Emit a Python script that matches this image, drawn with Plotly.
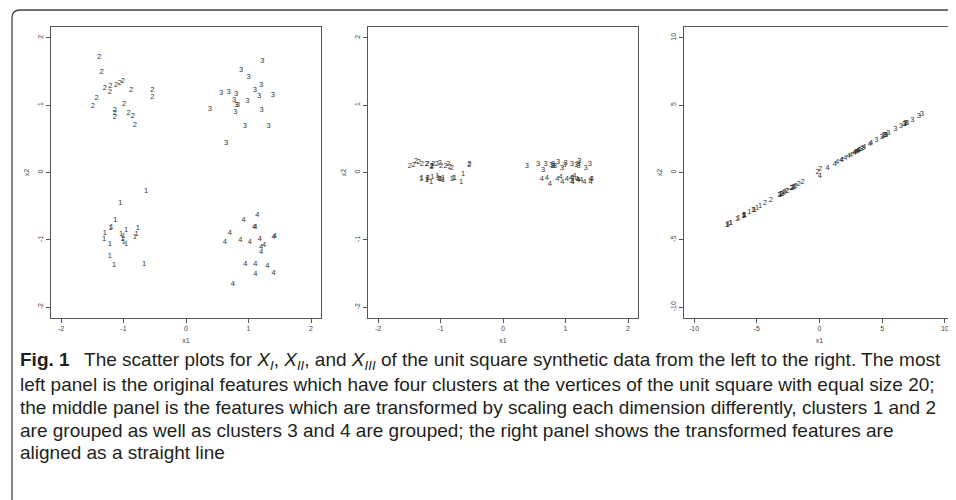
import plotly.graph_objects as go

# ---------------- Panel 1 (X_I): original features ----------------
p1_c1_x = [-0.64, -1.05, -1.13, -1.21, -1.19, -0.77, -1.30, -1.31, -1.22, -1.04,
           -0.96, -1.02, -1.00, -0.96, -0.79, -0.82, -1.22, -1.15, -0.67, -1.00]
p1_c1_y = [-0.27, -0.45, -0.71, -0.82, -0.81, -0.82, -0.90, -0.99, -1.07, -0.91,
           -0.86, -0.99, -1.03, -1.07, -0.91, -0.96, -1.24, -1.38, -1.36, -0.95]
p1_c2_x = [-1.39, -1.35, -1.30, -1.21, -1.22, -1.12, -1.06, -1.01, -0.88, -1.43,
           -1.49, -0.99, -1.14, -1.14, -1.14, -0.92, -0.85, -0.82, -0.54, -0.54]
p1_c2_y = [1.71, 1.49, 1.26, 1.28, 1.19, 1.30, 1.33, 1.36, 1.23, 1.10,
           0.99, 1.01, 0.93, 0.88, 0.82, 0.88, 0.83, 0.71, 1.22, 1.12]
p1_c3_x = [1.22, 0.88, 1.00, 1.20, 1.10, 1.17, 1.39, 0.56, 0.68, 0.80,
           0.77, 0.80, 0.83, 0.98, 0.79, 1.21, 0.38, 0.94, 1.32, 0.64]
p1_c3_y = [1.65, 1.52, 1.41, 1.29, 1.23, 1.14, 1.15, 1.18, 1.20, 1.16,
           1.08, 1.00, 1.00, 1.06, 0.89, 0.93, 0.94, 0.69, 0.69, 0.43]
p1_c4_x = [1.14, 0.92, 1.09, 1.11, 0.70, 0.62, 0.87, 1.02, 1.18, 1.40,
           1.42, 1.25, 1.20, 1.20, 0.95, 1.11, 1.30, 1.40, 1.11, 0.75]
p1_c4_y = [-0.63, -0.71, -0.81, -0.81, -0.90, -1.03, -1.00, -1.03, -0.99, -0.96,
           -0.95, -1.08, -1.11, -1.18, -1.36, -1.36, -1.39, -1.49, -1.51, -1.65]

# ---------------- Panel 2 (X_II): scaled features ----------------
p2_c1_x = [-0.64, -1.05, -1.13, -1.21, -1.19, -0.77, -1.30, -1.31, -1.22, -1.04,
           -0.96, -1.02, -1.00, -0.96, -0.79, -0.82, -1.22, -1.15, -0.67, -1.00]
p2_c1_y = [-0.03, -0.05, -0.07, -0.08, -0.08, -0.08, -0.09, -0.10, -0.11, -0.09,
           -0.09, -0.10, -0.10, -0.11, -0.09, -0.10, -0.12, -0.14, -0.14, -0.10]
p2_c2_x = [-1.39, -1.35, -1.30, -1.21, -1.22, -1.12, -1.06, -1.01, -0.88, -1.43,
           -1.49, -0.99, -1.14, -1.14, -1.14, -0.92, -0.85, -0.82, -0.54, -0.54]
p2_c2_y = [0.17, 0.15, 0.13, 0.13, 0.12, 0.13, 0.13, 0.14, 0.12, 0.11,
           0.10, 0.10, 0.09, 0.09, 0.08, 0.09, 0.08, 0.07, 0.12, 0.11]
p2_c3_x = [1.22, 0.88, 1.00, 1.20, 1.10, 1.17, 1.39, 0.56, 0.68, 0.80,
           0.77, 0.80, 0.83, 0.98, 0.79, 1.21, 0.38, 0.94, 1.32, 0.64]
p2_c3_y = [0.17, 0.15, 0.14, 0.13, 0.12, 0.11, 0.12, 0.12, 0.12, 0.12,
           0.11, 0.10, 0.10, 0.11, 0.09, 0.09, 0.09, 0.07, 0.07, 0.04]
p2_c4_x = [1.14, 0.92, 1.09, 1.11, 0.70, 0.62, 0.87, 1.02, 1.18, 1.40,
           1.42, 1.25, 1.20, 1.20, 0.95, 1.11, 1.30, 1.40, 1.11, 0.75]
p2_c4_y = [-0.06, -0.07, -0.08, -0.08, -0.09, -0.10, -0.10, -0.10, -0.10, -0.10,
           -0.10, -0.11, -0.11, -0.12, -0.14, -0.14, -0.14, -0.15, -0.15, -0.17]

# ---------------- Panel 3 (X_III): aligned features ----------------
p3_c1_x = [-3.16, -5.20, -6.02, -6.56, -6.45, -4.73, -7.08, -7.29, -7.06, -6.02,
           -5.59, -6.08, -6.08, -5.99, -4.98, -5.20, -7.38, -7.35, -5.32, -5.93]
p3_c1_y = [-1.67, -2.76, -3.19, -3.48, -3.42, -2.51, -3.75, -3.86, -3.74, -3.19,
           -2.96, -3.22, -3.22, -3.17, -2.64, -2.76, -3.91, -3.90, -2.82, -3.14]
p3_c2_x = [-2.57, -2.82, -3.04, -2.63, -2.84, -2.22, -1.91, -1.65, -1.35, -3.88,
           -4.33, -2.22, -2.99, -3.09, -3.20, -2.17, -1.98, -2.08, 0.04, -0.15]
p3_c2_y = [-1.36, -1.49, -1.61, -1.39, -1.51, -1.18, -1.01, -0.87, -0.72, -2.06,
           -2.29, -1.18, -1.58, -1.64, -1.70, -1.15, -1.05, -1.10, 0.25, 0.05]
p3_c3_x = [8.15, 6.49, 6.79, 7.39, 6.87, 6.99, 7.92, 4.53, 5.07, 5.49,
           5.22, 5.19, 5.31, 6.05, 4.94, 6.76, 3.34, 5.19, 6.77, 3.46]
p3_c3_y = [4.32, 3.44, 3.60, 3.92, 3.64, 3.70, 4.20, 2.40, 2.69, 2.91,
           2.77, 2.75, 2.81, 3.21, 2.62, 3.58, 1.77, 2.75, 3.59, 1.83]
p3_c4_x = [3.55, 2.49, 3.01, 3.09, 1.22, 0.65, 1.74, 2.31, 3.05, 4.02,
           4.12, 3.17, 2.90, 2.77, 1.40, 2.06, 2.80, 3.02, 1.78, 0.03]
p3_c4_y = [1.88, 1.32, 1.60, 1.64, 0.65, 0.34, 0.92, 1.22, 1.62, 2.13,
           2.18, 1.68, 1.54, 1.47, 0.74, 1.09, 1.48, 1.60, 0.94, -0.25]

cluster_labels = ["1", "2", "3", "4"]
p1_ticks = [-2, -1, 0, 1, 2]
p3_ticks = [-10, -5, 0, 5, 10]

caption_lines = [
    "<b>Fig. 1</b>\u2002 The scatter plots for <i>X</i><sub><i>I</i></sub>, <i>X</i><sub><i>II</i></sub>, and "
    "<i>X</i><sub><i>III</i></sub> of the unit square synthetic data from the left to the right. The most",
    "left panel is the original features which have four clusters at the vertices of the unit square with equal size 20;",
    "the middle panel is the features which are transformed by scaling each dimension differently, clusters 1 and 2",
    "are grouped as well as clusters 3 and 4 are grouped; the right panel shows the transformed features are",
    "aligned as a straight line",
]

# The page body has an 8px margin; the figure is sized to fill the rest of the window
OFF = 8
W, H = 956 - OFF, 500 - OFF


def fx(px):
    return (px - OFF) / W


def fy(py):
    return 1 - (py - OFF) / H


fig = go.Figure()

panels = [
    ("x", "y", [(p1_c1_x, p1_c1_y), (p1_c2_x, p1_c2_y), (p1_c3_x, p1_c3_y), (p1_c4_x, p1_c4_y)]),
    ("x2", "y2", [(p2_c1_x, p2_c1_y), (p2_c2_x, p2_c2_y), (p2_c3_x, p2_c3_y), (p2_c4_x, p2_c4_y)]),
    ("x3", "y3", [(p3_c1_x, p3_c1_y), (p3_c2_x, p3_c2_y), (p3_c3_x, p3_c3_y), (p3_c4_x, p3_c4_y)]),
]
for xa, ya, clusters in panels:
    for lab, (xs, ys) in zip(cluster_labels, clusters):
        fig.add_trace(go.Scatter(
            x=xs, y=ys, mode="text", text=[lab] * len(xs),
            textposition="middle center",
            textfont=dict(family="Liberation Sans, Arial, sans-serif", size=7.5, color="#333333"),
            xaxis=xa, yaxis=ya, showlegend=False, hoverinfo="skip", cliponaxis=False))

axis_font = dict(family="Liberation Sans, Arial, sans-serif", size=7, color="#444444")


def axis_common(rng, ticks):
    return dict(range=rng, tickvals=ticks, ticktext=[str(t) for t in ticks],
                showline=True, mirror=True, linecolor="#555555", linewidth=1,
                ticks="outside", ticklen=4, tickwidth=1, tickcolor="#555555",
                showgrid=False, zeroline=False, tickfont=axis_font, fixedrange=True)


px_domains = [(51, 321), (368, 638), (684, 955)]
ydom = [fy(318), fy(27)]
ranges = [([-2.16, 2.16], p1_ticks), ([-2.16, 2.16], p1_ticks), ([-10.8, 10.8], p3_ticks)]

for i, ((a, b), (rng, ticks)) in enumerate(zip(px_domains, ranges)):
    suf = "" if i == 0 else str(i + 1)
    xa = axis_common(rng, ticks)
    xa.update(domain=[fx(a), min(fx(b), 1.0)], anchor="y" + suf,
              title=dict(text="x1", font=axis_font, standoff=6))
    ya = axis_common(rng, ticks)
    ya.update(domain=ydom, anchor="x" + suf, tickangle=-90,
              title=dict(text="x2", font=axis_font, standoff=6))
    fig.layout["xaxis" + suf] = xa
    fig.layout["yaxis" + suf] = ya

# caption
cap_y = [361, 384, 407, 430, 452]
for line, py in zip(caption_lines, cap_y):
    fig.add_annotation(
        text=line, xref="paper", yref="paper", x=fx(18), y=fy(py),
        xanchor="left", yanchor="middle", showarrow=False, align="left",
        font=dict(family="Liberation Sans, Arial, sans-serif", size=19, color="#231f20"))

# rounded frame (top-left corner)
x0, y0, r = 12, 10, 8
path = (f"M {fx(x0)},{fy(520)} L {fx(x0)},{fy(y0 + r)} "
        f"Q {fx(x0)},{fy(y0)} {fx(x0 + r)},{fy(y0)} L {fx(980)},{fy(y0)}")
fig.add_shape(type="path", path=path, xref="paper", yref="paper",
              line=dict(color="#444444", width=1.3))

fig.update_layout(
    width=W, height=H, margin=dict(l=0, r=0, t=0, b=0, autoexpand=False),
    paper_bgcolor="white", plot_bgcolor="white",
)

fig.write_html("out.html", config={"displayModeBar": False})
